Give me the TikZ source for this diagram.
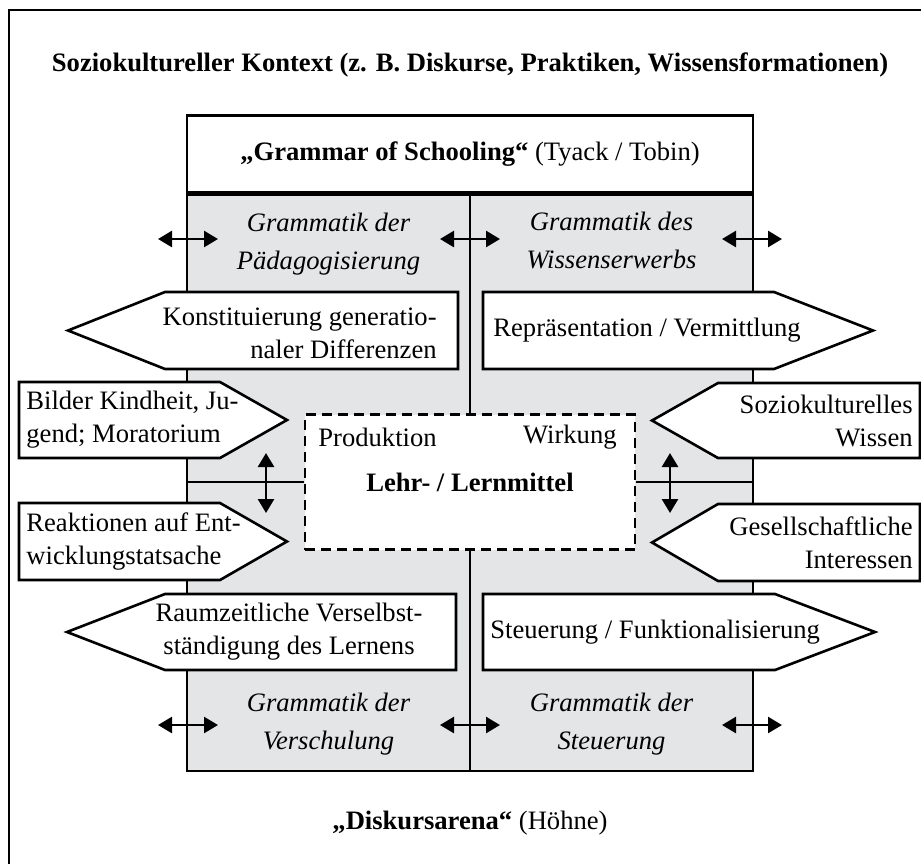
\documentclass[tikz,border=0pt]{standalone}
\usepackage{fontspec}
\setmainfont{Liberation Serif}
\usetikzlibrary{arrows.meta}
\definecolor{arenagray}{RGB}{228,229,231}
\begin{document}
\begin{tikzpicture}[
    x = 0.5pt, y = -0.5pt,
    rule/.style = {line width = 1.3pt},
    sign/.style = {rule, fill = white, line join = miter},
    txt/.style = {font = \fontsize{13.3}{16.5}\selectfont, inner sep = 0pt},
    gram/.style = {txt, font = \fontsize{13.3}{19}\selectfont\itshape, align = center},
    twoway/.style = {line width = 1.3pt, {Triangle[length = 7pt, width = 8pt]}-{Triangle[length = 7pt, width = 8pt]}}
  ]
  \useasboundingbox (0,0) rectangle (921,863);
  % outer frame, runs off the page
  \draw[rule] (9,900) -- (9,10) -- (960,10);
  \node[txt, font = \fontsize{13.3}{16.5}\selectfont\bfseries] (context) at (470,65)
    {Soziokultureller Kontext (z. B. Diskurse, Praktiken, Wissensformationen)};
  % the arena and its header
  \node[draw, rule, fill = arenagray, minimum width = 283pt, minimum height = 288pt, inner sep = 0pt] (arena) at (470,483) {};
  \node[draw, rule, fill = white, minimum width = 283pt, minimum height = 38.5pt, txt, anchor = south] (schooling) at (arena.north)
    {\textbf{„Grammar of Schooling“} (Tyack / Tobin)};
  \node[draw, rule, dash pattern = on 5pt off 3pt, fill = white, minimum width = 165pt, minimum height = 67.5pt, inner sep = 0pt] (mittel) at (470,482) {};
  % dividing lines
  \draw[rule] (schooling.south) -- (mittel.north);
  \draw[rule] (mittel.south) -- (arena.south);
  \draw[rule] (arena.west |- mittel.west) -- (mittel.west);
  \draw[rule] (mittel.east) -- (arena.east |- mittel.east);
  % signs, left
  \draw[sign] (165,292) -- (458,292) -- (458,369) -- (165,369) -- (68,330.5) -- cycle;
  \draw[sign] (19,382) -- (220,382) -- (287,420) -- (220,458) -- (19,458) -- cycle;
  \draw[sign] (19,503) -- (220,503) -- (287,541.5) -- (220,580) -- (19,580) -- cycle;
  \draw[sign] (165,594) -- (456,594) -- (456,670) -- (165,670) -- (67,632) -- cycle;
  % signs, right
  \draw[sign] (483,292) -- (774,292) -- (873,330.5) -- (774,369) -- (483,369) -- cycle;
  \draw[sign] (920,383) -- (718,383) -- (652,420.5) -- (718,458) -- (920,458) -- cycle;
  \draw[sign] (920,504) -- (718,504) -- (652,542.5) -- (718,581) -- (920,581) -- cycle;
  \draw[sign] (483,594) -- (775,594) -- (875,632) -- (775,670) -- (483,670) -- cycle;
  % sign texts
  \node[txt, align = right, anchor = east] (konst)  at (437,333.5) {Konstituierung generatio-\\naler Differenzen};
  \node[txt, align = left, anchor = west]  (bilder) at (26,420)    {Bilder Kindheit, Ju-\\gend; Moratorium};
  \node[txt, align = left, anchor = west]  (reakt)  at (26,541.5)  {Reaktionen auf Ent-\\wicklungstatsache};
  \node[txt, align = center]               (raum)   at (289,632)   {Raumzeitliche Verselbst-\\ständigung des Lernens};
  \node[txt, anchor = west]                (repr)   at (493,330.5) {Repräsentation / Vermittlung};
  \node[txt, align = right, anchor = east] (sozio)  at (913,420.5) {Soziokulturelles\\Wissen};
  \node[txt, align = right, anchor = east] (gesell) at (913,542.5) {Gesellschaftliche\\Interessen};
  \node[txt, anchor = west]                (steuer) at (490,632)   {Steuerung / Funktionalisierung};
  % the four grammars
  \node[gram] (gpaed)   at (328.5,244) {Grammatik der\\Pädagogisierung};
  \node[gram] (gwiss)   at (611.5,240) {Grammatik des\\Wissenserwerbs};
  \node[gram] (gversch) at (328.5,724) {Grammatik der\\Verschulung};
  \node[gram] (gsteu)   at (611.5,724) {Grammatik der\\Steuerung};
  % Lehr- / Lernmittel
  \node[txt] (prod) at (318,437) [anchor = west] {Produktion};
  \node[txt] (wirk) at (617,437) [anchor = east] {Wirkung};
  \node[txt, font = \fontsize{13.3}{16.5}\selectfont\bfseries] (lehr) at (mittel.center) {Lehr- / Lernmittel};
  % exchange arrows
  \foreach \side/\xpos in {l/188, m/470, r/752} {
    \coordinate (top\side) at (\xpos,239);
    \coordinate (bot\side) at (\xpos,725);
    \draw[twoway] ([xshift = -15pt]top\side) -- ([xshift = 15pt]top\side);
    \draw[twoway] ([xshift = -15pt]bot\side) -- ([xshift = 15pt]bot\side);
  }
  \coordinate (vl) at (266,483);
  \coordinate (vr) at (670,483);
  \draw[twoway] ([yshift = 15pt]vl) -- ([yshift = -15pt]vl);
  \draw[twoway] ([yshift = 15pt]vr) -- ([yshift = -15pt]vr);
  \node[txt] (diskurs) at (470,823) {\textbf{„Diskursarena“} (Höhne)};
\end{tikzpicture}
\end{document}
